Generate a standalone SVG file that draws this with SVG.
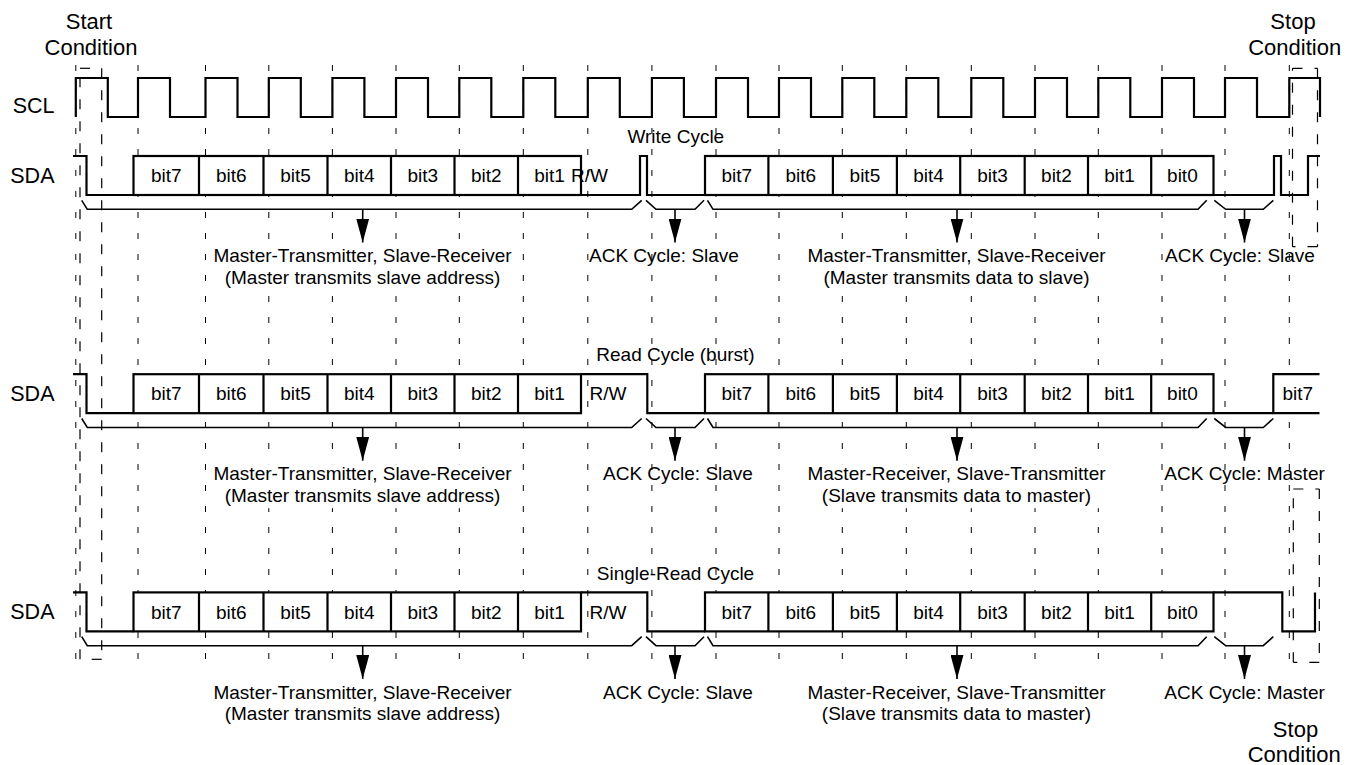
<svg xmlns="http://www.w3.org/2000/svg" xmlns:xlink="http://www.w3.org/1999/xlink" width="1354" height="765" viewBox="0 0 1354 765">
<style>
  text { font-family: "Liberation Sans", Arial, Helvetica, sans-serif; fill: #000; }
  .big { font-size: 22px; }
  .sig { font-size: 21.5px; text-anchor: end; }
  .lbl { font-size: 19px; }
  .mid { text-anchor: middle; }
  .wave { fill: none; stroke: #000; stroke-width: 2.2; stroke-linejoin: miter; }
  .box { fill: #fff; stroke: #000; stroke-width: 2.2; }
  .div { stroke: #000; stroke-width: 2.2; }
  .grid { stroke: #000; stroke-width: 1; stroke-dasharray: 6 15; }
  .cond { fill: none; stroke: #000; stroke-width: 1.2; stroke-dasharray: 10 12; }
  .brace { fill: none; stroke: #000; stroke-width: 1.6; }
  .arrow { stroke: #000; stroke-width: 1.6; marker-end: url(#head); }
  .bg { fill: #fff; stroke: none; }
</style>
<defs>
  <marker id="head" viewBox="0 -6.5 24 13" refX="24" refY="0" markerWidth="24" markerHeight="13" markerUnits="userSpaceOnUse" orient="auto">
    <path d="M0,-6.5 L24,0 L0,6.5 Z" fill="#000"/>
  </marker>
</defs>
<rect width="1354" height="765" fill="#fff"/>

<g id="timing-grid">
  <line class="grid" x1="75.8" y1="65" x2="75.8" y2="660"/>
  <line class="grid" x1="138" y1="65" x2="138" y2="660"/>
  <line class="grid" x1="205.5" y1="65" x2="205.5" y2="660"/>
  <line class="grid" x1="268.8" y1="65" x2="268.8" y2="660"/>
  <line class="grid" x1="332.4" y1="65" x2="332.4" y2="660"/>
  <line class="grid" x1="396" y1="65" x2="396" y2="660"/>
  <line class="grid" x1="459.3" y1="65" x2="459.3" y2="660"/>
  <line class="grid" x1="523.3" y1="65" x2="523.3" y2="660"/>
  <line class="grid" x1="587.8" y1="65" x2="587.8" y2="660"/>
  <line class="grid" x1="651.9" y1="65" x2="651.9" y2="660"/>
  <line class="grid" x1="716" y1="65" x2="716" y2="660"/>
  <line class="grid" x1="779" y1="65" x2="779" y2="660"/>
  <line class="grid" x1="842.3" y1="65" x2="842.3" y2="660"/>
  <line class="grid" x1="906.3" y1="65" x2="906.3" y2="660"/>
  <line class="grid" x1="971.3" y1="65" x2="971.3" y2="660"/>
  <line class="grid" x1="1035" y1="65" x2="1035" y2="660"/>
  <line class="grid" x1="1098.3" y1="65" x2="1098.3" y2="660"/>
  <line class="grid" x1="1162" y1="65" x2="1162" y2="660"/>
  <line class="grid" x1="1225" y1="65" x2="1225" y2="660"/>
  <line class="grid" x1="1289.3" y1="65" x2="1289.3" y2="660"/>
</g>

<g id="start-condition-box">
  <line class="cond" x1="80" y1="68.3" x2="101.7" y2="68.3"/>
  <line class="cond" x1="101.7" y1="68.3" x2="101.7" y2="659.3"/>
  <line class="cond" x1="101.7" y1="659.3" x2="80" y2="659.3"/>
  <line class="cond" x1="80" y1="659.3" x2="80" y2="68.3"/>
</g>
<g id="stop-condition-box-top">
  <line class="cond" x1="1292.5" y1="68.3" x2="1317.5" y2="68.3"/>
  <line class="cond" x1="1317.5" y1="68.3" x2="1317.5" y2="246.7"/>
  <line class="cond" x1="1317.5" y1="246.7" x2="1292.5" y2="246.7"/>
  <line class="cond" x1="1292.5" y1="246.7" x2="1292.5" y2="68.3"/>
</g>
<g id="stop-condition-box-bottom">
  <line class="cond" x1="1293.3" y1="489" x2="1319.3" y2="489"/>
  <line class="cond" x1="1319.3" y1="489" x2="1319.3" y2="662.3"/>
  <line class="cond" x1="1319.3" y1="662.3" x2="1293.3" y2="662.3"/>
  <line class="cond" x1="1293.3" y1="662.3" x2="1293.3" y2="489"/>
</g>

<g id="titles">
  <text class="big mid" x="89" y="29.3">Start</text>
  <text class="big mid" x="91" y="55">Condition</text>
  <text class="big mid" x="1293" y="29.3">Stop</text>
  <text class="big mid" x="1294.7" y="55">Condition</text>
  <text class="big mid" x="1295.5" y="736.7">Stop</text>
  <text class="big mid" x="1294.2" y="761.7">Condition</text>
  <text class="sig" x="54.5" y="113.3">SCL</text>
  <text class="sig" x="54.5" y="183">SDA</text>
  <text class="sig" x="54.5" y="401.2">SDA</text>
  <text class="sig" x="54.5" y="619.4">SDA</text>
</g>

<g id="scl">
  <path class="wave" d="M75.8,117 V78 H107.8 V117 H138 V78 H170 V117 H205.5 V78 H237.5 V117 H268.8 V78 H300.8 V117 H332.4 V78 H364.4 V117 H396 V78 H428 V117 H459.3 V78 H491.3 V117 H523.3 V78 H555.3 V117 H587.8 V78 H619.8 V117 H651.9 V78 H683.9 V117 H716 V78 H748 V117 H779 V78 H811 V117 H842.3 V78 H874.3 V117 H906.3 V78 H938.3 V117 H971.3 V78 H1003.3 V117 H1035 V78 H1067 V117 H1098.3 V78 H1130.3 V117 H1162 V78 H1194 V117 H1225 V78 H1257 V117 H1289.3 V78 H1320 V117"/>
</g>

<!-- Row 1: Write Cycle -->
<g id="row-write">
  <text class="lbl mid" x="675.8" y="143.3">Write Cycle</text>
  <path class="wave" d="M73,156 H86.5 V195 H640 V156 H647 V195 H1274 V156 H1281 V195 H1308 V156 H1320"/>
  <g id="write-byte1">
    <rect class="box" x="133.5" y="156" width="447.5" height="39"/>
    <path class="div" d="M199,156 V195 M263.5,156 V195 M327.5,156 V195 M391,156 V195 M454.5,156 V195 M518,156 V195"/>
  </g>
  <g id="write-byte2">
    <rect class="box" x="705" y="156" width="508.5" height="39"/>
    <path class="div" d="M768.4,156 V195 M832.9,156 V195 M896.9,156 V195 M960.2,156 V195 M1024.7,156 V195 M1088,156 V195 M1151.2,156 V195"/>
  </g>
  <g class="lbl mid">
    <text class="lbl mid" x="166.3" y="182.3">bit7</text>
    <text class="lbl mid" x="231.3" y="182.3">bit6</text>
    <text class="lbl mid" x="295.5" y="182.3">bit5</text>
    <text class="lbl mid" x="359.3" y="182.3">bit4</text>
    <text class="lbl mid" x="422.8" y="182.3">bit3</text>
    <text class="lbl mid" x="486.3" y="182.3">bit2</text>
    <text class="lbl mid" x="549.5" y="182.3">bit1</text>
    <text class="lbl" x="589.5" y="182.3">R/W</text>
    <text class="lbl mid" x="736.7" y="182.3">bit7</text>
    <text class="lbl mid" x="800.7" y="182.3">bit6</text>
    <text class="lbl mid" x="864.9" y="182.3">bit5</text>
    <text class="lbl mid" x="928.6" y="182.3">bit4</text>
    <text class="lbl mid" x="992.5" y="182.3">bit3</text>
    <text class="lbl mid" x="1056.4" y="182.3">bit2</text>
    <text class="lbl mid" x="1119.6" y="182.3">bit1</text>
    <text class="lbl mid" x="1182.4" y="182.3">bit0</text>
  </g>
  <rect class="bg" x="210" y="246" width="305" height="44"/>
  <rect class="bg" x="804" y="246" width="305" height="44"/>
  <text class="lbl mid" x="362.5" y="262.3">Master-Transmitter, Slave-Receiver</text>
  <text class="lbl mid" x="362.5" y="284">(Master transmits slave address)</text>
  <text class="lbl" x="589" y="262.3">ACK Cycle: Slave</text>
  <text class="lbl mid" x="956.5" y="262.3">Master-Transmitter, Slave-Receiver</text>
  <text class="lbl mid" x="956.5" y="284">(Master transmits data to slave)</text>
  <text class="lbl" x="1165" y="262.3">ACK Cycle: Slave</text>
</g>

<!-- Row 2: Read Cycle (burst) -->
<g id="row-read-burst" transform="translate(0,218.2)">
  <text class="lbl mid" x="675.5" y="143.3">Read Cycle (burst)</text>
  <path class="wave" d="M73,156 H86.5 V195 H133.5 M581,156 H647.3 V195 H705 M1213.5,195 H1273.3"/>
  <g id="read-byte1">
    <rect class="box" x="133.5" y="156" width="447.5" height="39"/>
    <path class="div" d="M199,156 V195 M263.5,156 V195 M327.5,156 V195 M391,156 V195 M454.5,156 V195 M518,156 V195"/>
  </g>
  <g id="read-byte2">
    <rect class="box" x="705" y="156" width="508.5" height="39"/>
    <path class="div" d="M768.4,156 V195 M832.9,156 V195 M896.9,156 V195 M960.2,156 V195 M1024.7,156 V195 M1088,156 V195 M1151.2,156 V195"/>
  </g>
  <path class="box" d="M1319.5,156 H1273.3 V195 H1319.5"/>
  <text class="lbl mid" x="166.3" y="182.3">bit7</text>
  <text class="lbl mid" x="231.3" y="182.3">bit6</text>
  <text class="lbl mid" x="295.5" y="182.3">bit5</text>
  <text class="lbl mid" x="359.3" y="182.3">bit4</text>
  <text class="lbl mid" x="422.8" y="182.3">bit3</text>
  <text class="lbl mid" x="486.3" y="182.3">bit2</text>
  <text class="lbl mid" x="549.5" y="182.3">bit1</text>
  <text class="lbl" x="589.5" y="182.3">R/W</text>
  <text class="lbl mid" x="736.7" y="182.3">bit7</text>
  <text class="lbl mid" x="800.7" y="182.3">bit6</text>
  <text class="lbl mid" x="864.9" y="182.3">bit5</text>
  <text class="lbl mid" x="928.6" y="182.3">bit4</text>
  <text class="lbl mid" x="992.5" y="182.3">bit3</text>
  <text class="lbl mid" x="1056.4" y="182.3">bit2</text>
  <text class="lbl mid" x="1119.6" y="182.3">bit1</text>
  <text class="lbl mid" x="1182.4" y="182.3">bit0</text>
  <text class="lbl mid" x="1297.8" y="182.3">bit7</text>
  <rect class="bg" x="210" y="246" width="305" height="44"/>
  <rect class="bg" x="804" y="246" width="305" height="44"/>
  <text class="lbl mid" x="362.5" y="262.3">Master-Transmitter, Slave-Receiver</text>
  <text class="lbl mid" x="362.5" y="284">(Master transmits slave address)</text>
  <text class="lbl" x="603" y="262.3">ACK Cycle: Slave</text>
  <text class="lbl mid" x="956.5" y="262.3">Master-Receiver, Slave-Transmitter</text>
  <text class="lbl mid" x="956.5" y="284">(Slave transmits data to master)</text>
  <text class="lbl" x="1164.3" y="262.3">ACK Cycle: Master</text>
</g>

<!-- Row 3: Single-Read Cycle -->
<g id="row-single-read" transform="translate(0,436.4)">
  <text class="lbl mid" x="675.5" y="143.3">Single-Read Cycle</text>
  <path class="wave" d="M73,156 H86.5 V195 H133.5 M581,156 H647.3 V195 H705 M1213.5,156 H1282.3 V195 H1315 V156"/>
  <g id="single-byte1">
    <rect class="box" x="133.5" y="156" width="447.5" height="39"/>
    <path class="div" d="M199,156 V195 M263.5,156 V195 M327.5,156 V195 M391,156 V195 M454.5,156 V195 M518,156 V195"/>
  </g>
  <g id="single-byte2">
    <rect class="box" x="705" y="156" width="508.5" height="39"/>
    <path class="div" d="M768.4,156 V195 M832.9,156 V195 M896.9,156 V195 M960.2,156 V195 M1024.7,156 V195 M1088,156 V195 M1151.2,156 V195"/>
  </g>
  <text class="lbl mid" x="166.3" y="182.3">bit7</text>
  <text class="lbl mid" x="231.3" y="182.3">bit6</text>
  <text class="lbl mid" x="295.5" y="182.3">bit5</text>
  <text class="lbl mid" x="359.3" y="182.3">bit4</text>
  <text class="lbl mid" x="422.8" y="182.3">bit3</text>
  <text class="lbl mid" x="486.3" y="182.3">bit2</text>
  <text class="lbl mid" x="549.5" y="182.3">bit1</text>
  <text class="lbl" x="589.5" y="182.3">R/W</text>
  <text class="lbl mid" x="736.7" y="182.3">bit7</text>
  <text class="lbl mid" x="800.7" y="182.3">bit6</text>
  <text class="lbl mid" x="864.9" y="182.3">bit5</text>
  <text class="lbl mid" x="928.6" y="182.3">bit4</text>
  <text class="lbl mid" x="992.5" y="182.3">bit3</text>
  <text class="lbl mid" x="1056.4" y="182.3">bit2</text>
  <text class="lbl mid" x="1119.6" y="182.3">bit1</text>
  <text class="lbl mid" x="1182.4" y="182.3">bit0</text>
  <rect class="bg" x="210" y="246" width="305" height="44"/>
  <rect class="bg" x="804" y="246" width="305" height="44"/>
  <text class="lbl mid" x="362.5" y="262.3">Master-Transmitter, Slave-Receiver</text>
  <text class="lbl mid" x="362.5" y="284">(Master transmits slave address)</text>
  <text class="lbl" x="603" y="262.3">ACK Cycle: Slave</text>
  <text class="lbl mid" x="956.5" y="262.3">Master-Receiver, Slave-Transmitter</text>
  <text class="lbl mid" x="956.5" y="284">(Slave transmits data to master)</text>
  <text class="lbl" x="1164.3" y="262.3">ACK Cycle: Master</text>
</g>

<g id="connectors">
  <g id="braces-row1">
    <path class="brace" d="M81.7,200.3 L87.3,209.3 H631.7 L641.7,200.3"/>
    <path class="brace" d="M646,200.3 L656,209.3 H695 L704,200.3"/>
    <path class="brace" d="M707.5,200.3 L713,209.3 H1198 L1206.7,200.3"/>
    <path class="brace" d="M1214.3,200.3 L1225.7,209.3 H1263.3 L1273.3,200.3"/>
    <line class="arrow" x1="362.7" y1="209.3" x2="362.7" y2="242.5"/>
    <line class="arrow" x1="675" y1="209.3" x2="675" y2="242.5"/>
    <line class="arrow" x1="957" y1="209.3" x2="957" y2="242.5"/>
    <line class="arrow" x1="1244.5" y1="209.3" x2="1244.5" y2="242.5"/>
  </g>
  <g id="braces-row2" transform="translate(0,218.2)">
    <path class="brace" d="M81.7,200.3 L87.3,209.3 H631.7 L641.7,200.3"/>
    <path class="brace" d="M646,200.3 L656,209.3 H695 L704,200.3"/>
    <path class="brace" d="M707.5,200.3 L713,209.3 H1198 L1206.7,200.3"/>
    <path class="brace" d="M1214.3,200.3 L1225.7,209.3 H1263.3 L1273.3,200.3"/>
    <line class="arrow" x1="362.7" y1="209.3" x2="362.7" y2="242.5"/>
    <line class="arrow" x1="675" y1="209.3" x2="675" y2="242.5"/>
    <line class="arrow" x1="957" y1="209.3" x2="957" y2="242.5"/>
    <line class="arrow" x1="1244.5" y1="209.3" x2="1244.5" y2="242.5"/>
  </g>
  <g id="braces-row3" transform="translate(0,436.4)">
    <path class="brace" d="M81.7,200.3 L87.3,209.3 H631.7 L641.7,200.3"/>
    <path class="brace" d="M646,200.3 L656,209.3 H695 L704,200.3"/>
    <path class="brace" d="M707.5,200.3 L713,209.3 H1198 L1206.7,200.3"/>
    <path class="brace" d="M1214.3,200.3 L1225.7,209.3 H1263.3 L1273.3,200.3"/>
    <line class="arrow" x1="362.7" y1="209.3" x2="362.7" y2="242.5"/>
    <line class="arrow" x1="675" y1="209.3" x2="675" y2="242.5"/>
    <line class="arrow" x1="957" y1="209.3" x2="957" y2="242.5"/>
    <line class="arrow" x1="1244.5" y1="209.3" x2="1244.5" y2="242.5"/>
  </g>
</g>
</svg>
